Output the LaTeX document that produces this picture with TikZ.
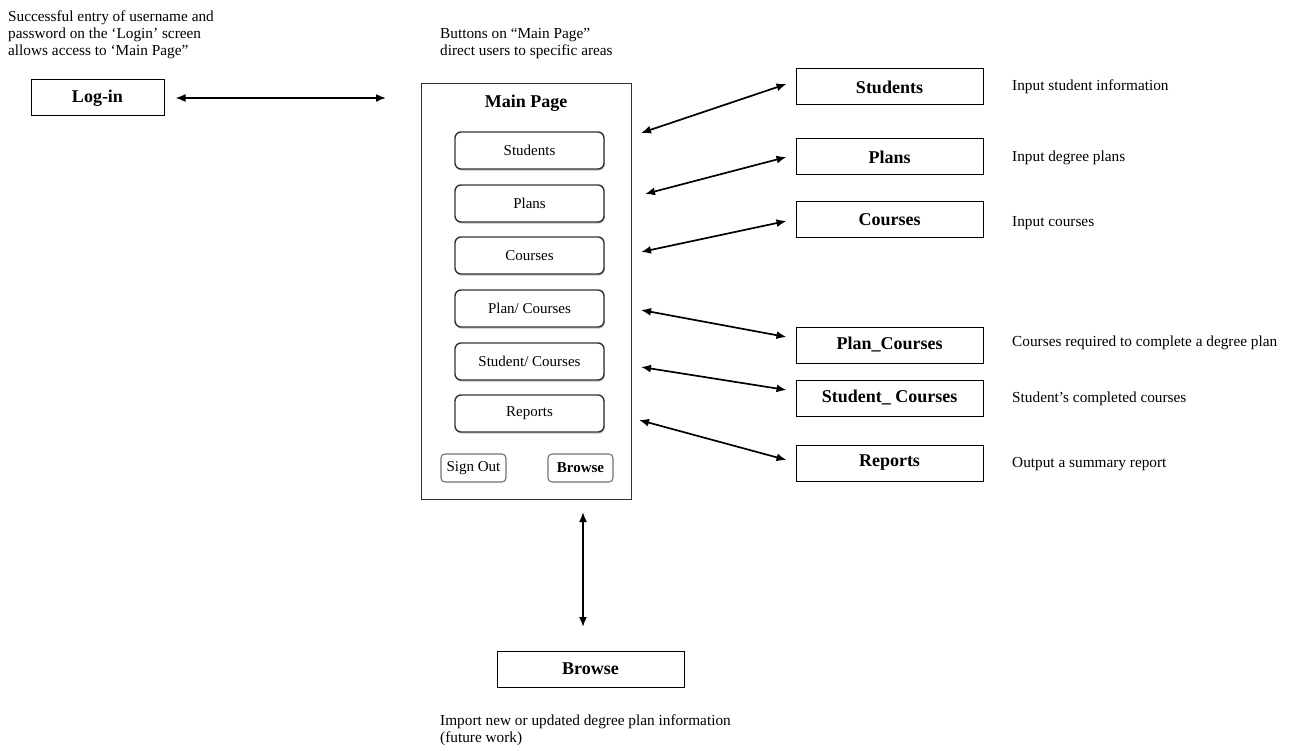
\documentclass[tikz,border=0pt]{standalone}
\usepackage{fontspec}
\setmainfont{Liberation Serif}
\usetikzlibrary{arrows.meta,shadows}
\begin{document}
\begin{tikzpicture}[x=1pt,y=-1pt,
  note/.style={font=\fontsize{15.3}{17}\selectfont, align=left, anchor=north west, inner sep=0pt},
  desc/.style={font=\fontsize{15.3}{17}\selectfont, anchor=west, inner sep=0pt},
  entity/.style={draw, line width=1pt, minimum width=187pt, minimum height=36pt,
    font=\bfseries\fontsize{18}{20}\selectfont, inner sep=0pt, fill=white},
  btn/.style={draw=black!80, fill=white, line width=1.4pt, rounded corners=6pt,
    minimum width=149pt, minimum height=37pt, font=\fontsize{15}{17}\selectfont, inner sep=0pt,
    drop shadow={shadow xshift=0.8pt, shadow yshift=-1.6pt, fill=black!30, opacity=0.8}},
  smallbtn/.style={draw=black!55, fill=white, line width=1.1pt, rounded corners=4pt,
    minimum width=65pt, minimum height=28pt, font=\fontsize{15}{17}\selectfont, inner sep=0pt},
  frame/.style={draw=black!80, line width=1pt, minimum width=210pt, minimum height=415pt, inner sep=0pt},
  link/.style={{Latex[length=10pt,width=8pt]}-{Latex[length=10pt,width=8pt]}, line width=1.7pt}
]
\useasboundingbox (0,0) rectangle (1301,751);

% explanatory notes
\node[note] (noteLogin) at (8,11) {Successful entry of username and\\password on the `Login' screen\\allows access to `Main Page''};
\node[note] (noteMain) at (440,28) {Buttons on ``Main Page''\\direct users to specific areas};
\node[note] (noteBrowse) at (440,715) {Import new or updated degree plan information\\(future work)};

% log-in screen
\node[entity, minimum width=133pt] (login) at (97.5,98) {Log-in};

% main page mock-up
\node[frame] (main) at (526,291.5) {};
\node[font=\bfseries\fontsize{18}{20}\selectfont, inner sep=0pt] (mainTitle) at (526,103) {Main Page};
\node[btn] (bStudents) at (529.5,150.5) {Students};
\node[btn] (bPlans)    at (529.5,203.5) {Plans};
\node[btn] (bCourses)  at (529.5,255.5) {Courses};
\node[btn] (bPlanC)    at (529.5,308.5) {Plan/ Courses};
\node[btn] (bStudC)    at (529.5,361.5) {Student/ Courses};
\node[btn] (bReports)  at (529.5,413.5) {Reports};
\node[smallbtn] (bSignOut) at (473.5,468) {Sign Out};
\node[smallbtn, font=\bfseries\fontsize{15}{17}\selectfont] (bBrowse) at (580.5,468) {Browse};

% target screens
\node[entity] (students) at (889.5,87)  {Students};
\node[entity] (plans)    at (889.5,157) {Plans};
\node[entity] (courses)  at (889.5,220) {Courses};
\node[entity] (planc)    at (889.5,345) {Plan\_Courses};
\node[entity] (studc)    at (889.5,398) {Student\_ Courses};
\node[entity] (reports)  at (889.5,463) {Reports};
\node[entity] (browse)   at (590.5,669) {Browse};

% descriptions
\node[desc] (dStudents) at (1012,87)  {Input student information};
\node[desc] (dPlans)    at (1012,158) {Input degree plans};
\node[desc] (dCourses)  at (1012,223) {Input courses};
\node[desc] (dPlanC)    at (1012,343) {Courses required to complete a degree plan};
\node[desc] (dStudC)    at (1012,399) {Student's completed courses};
\node[desc] (dReports)  at (1012,464) {Output a summary report};

% arrow ends beside the main page
\coordinate (pLogin)    at (386,98);
\coordinate (pStudents) at (641,133);
\coordinate (pPlans)    at (645,194);
\coordinate (pCourses)  at (641,252);
\coordinate (pPlanC)    at (641,310);
\coordinate (pStudC)    at (641,367);
\coordinate (pReports)  at (639,420);
\coordinate (pBrowseTop) at (583,512);
\coordinate (pBrowseBot) at (583,627);

% connectors
\draw[link] ([xshift=11pt]login.east) -- (pLogin);
\draw[link] (pStudents) -- ([shift={(-9,-3)}]students.west);
\draw[link] (pPlans)    -- ([shift={(-9,0)}]plans.west);
\draw[link] (pCourses)  -- ([shift={(-9,1)}]courses.west);
\draw[link] (pPlanC)    -- ([shift={(-9,-8)}]planc.west);
\draw[link] (pStudC)    -- ([shift={(-9,-8)}]studc.west);
\draw[link] (pReports)  -- ([shift={(-9,-3)}]reports.west);
\draw[link] (pBrowseTop) -- (pBrowseBot);
\end{tikzpicture}
\end{document}
